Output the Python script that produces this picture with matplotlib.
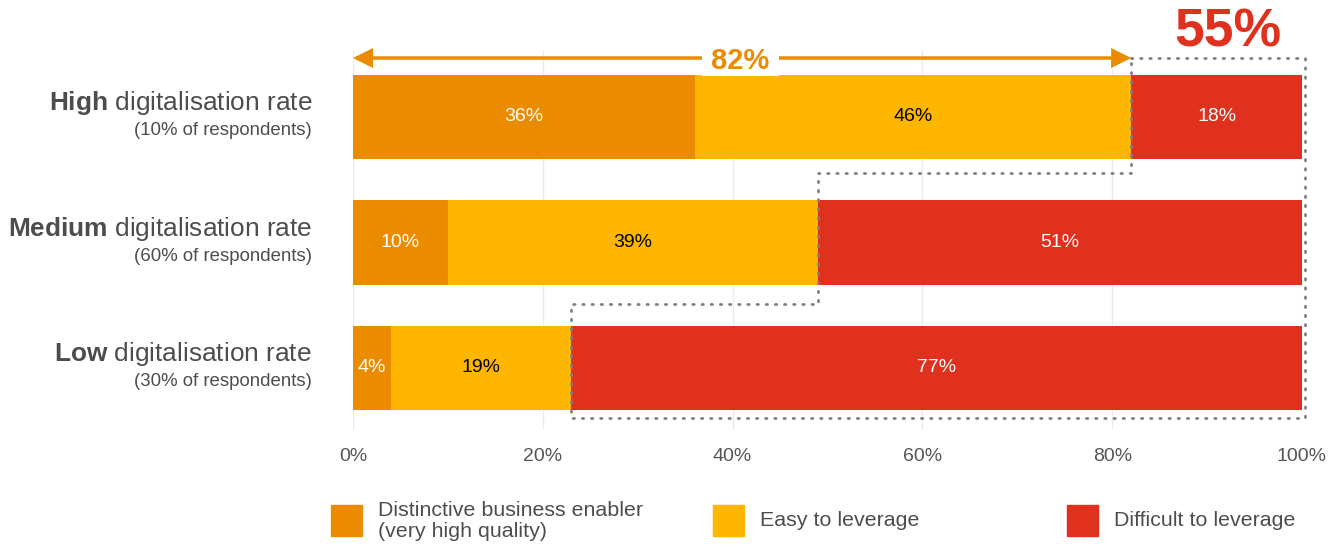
import matplotlib
matplotlib.use('Agg')
import matplotlib.pyplot as plt
import matplotlib.transforms as mtransforms
from matplotlib.patches import Rectangle
import numpy as np

plt.rcParams['font.family'] = 'Liberation Sans'
plt.rcParams['mathtext.fontset'] = 'custom'
plt.rcParams['mathtext.rm'] = 'Liberation Sans'
plt.rcParams['mathtext.bf'] = 'Liberation Sans:bold'

# data
groups = ['High', 'Medium', 'Low']
respondents = ['10%', '60%', '30%']
enabler = np.array([36, 10, 4])
easy = np.array([46, 39, 19])
difficult = np.array([18, 51, 77])
series_names = ['Distinctive business enabler\n(very high quality)',
                'Easy to leverage', 'Difficult to leverage']
colors = ['#EB8C00', '#FFB600', '#E0301E']
label_colors = ['white', 'black', 'white']
xticks = [0, 20, 40, 60, 80, 100]
top_share = 82      # enabler + easy, high group
difficult_avg = 55  # callout

fig = plt.figure(figsize=(13.32, 5.48), dpi=100)
ax = fig.add_axes([353 / 1332, 1 - 430 / 548, 949 / 1332, 380 / 548])

y = np.arange(len(groups))
h = 0.67
lefts = np.zeros(len(groups))
for vals, c, tc in zip([enabler, easy, difficult], colors, label_colors):
    ax.barh(y, vals, left=lefts, height=h, color=c, zorder=2)
    for yi, l, v in zip(y, lefts, vals):
        ax.text(l + v / 2, yi, f'{v}%', ha='center', va='center',
                color=tc, fontsize=14, zorder=4)
    lefts = lefts + vals

ax.set_xlim(0, 100)
ax.set_ylim(2 + 62 / 125.5, -67 / 125.5)
ax.set_xticks(xticks)
ax.set_xticklabels([f'{t}%' for t in xticks], fontsize=14, color='#555555')
ax.tick_params(axis='x', length=0, pad=13)
ax.set_yticks([])
ax.grid(axis='x', color='#ebebeb', lw=1, zorder=0)
for s in ax.spines.values():
    s.set_visible(False)

# y labels
tr = mtransforms.blended_transform_factory(fig.transFigure, ax.transData)
for yi, g, r in zip(y, groups, respondents):
    ax.text(312 / 1332, yi - 0.11, r'$\mathbf{' + g + '}$ digitalisation rate',
            transform=tr, ha='right', va='center', fontsize=18.9, color='#4d4d4d')
    ax.text(312 / 1332, yi + 0.11, f'({r} of respondents)', transform=tr,
            ha='right', va='center', fontsize=13.45, color='#4d4d4d')

# dotted outline around the difficult segments (staircase following bar edges)
off = 0.47
starts = enabler + easy
px = [starts[0], 100.3, 100.3, starts[2], starts[2], starts[1], starts[1], starts[0], starts[0]]
py = [y[0] - off, y[0] - off, y[2] + 0.40, y[2] + 0.40, y[2] - off - 0.04,
      y[2] - off - 0.04, y[1] - off - 0.08, y[1] - off - 0.08, y[0] - off]
ax.plot(px, py, color='#808080', lw=2, ls=(0, (0.5, 2.8)),
        dash_capstyle='round', clip_on=False, zorder=3)

# 82% arrow
ay = y[0] - off
ax.annotate('', xy=(0, ay), xytext=(top_share, ay),
            arrowprops=dict(arrowstyle='<|-|>', color='#EB8C00', lw=2.5,
                            mutation_scale=26, shrinkA=0, shrinkB=0,
                            joinstyle='miter'),
            annotation_clip=False, zorder=5)
ax.text(40.8, ay + 0.02, f' {top_share}% ', ha='center', va='center', fontsize=21,
        fontweight='bold', color='#EB8C00', zorder=6,
        bbox=dict(facecolor='white', edgecolor='none', pad=0.8))
ax.text(92.2, y[0] - 0.67, f'{difficult_avg}%', ha='center', va='center',
        fontsize=38.5, fontweight='bold', color='#E0301E', clip_on=False)

# legend
sq_x = [331, 713, 1067]
for sx, c, name in zip(sq_x, colors, series_names):
    fig.add_artist(Rectangle((sx / 1332, 1 - 536 / 548), 31 / 1332, 31 / 548,
                             transform=fig.transFigure, color=c))
    fig.text((sx + 47) / 1332, 1 - 521 / 548, name, ha='left', va='center',
             fontsize=15.4, color='#4d4d4d', linespacing=1.1)

fig.savefig('out.png', dpi=100)
